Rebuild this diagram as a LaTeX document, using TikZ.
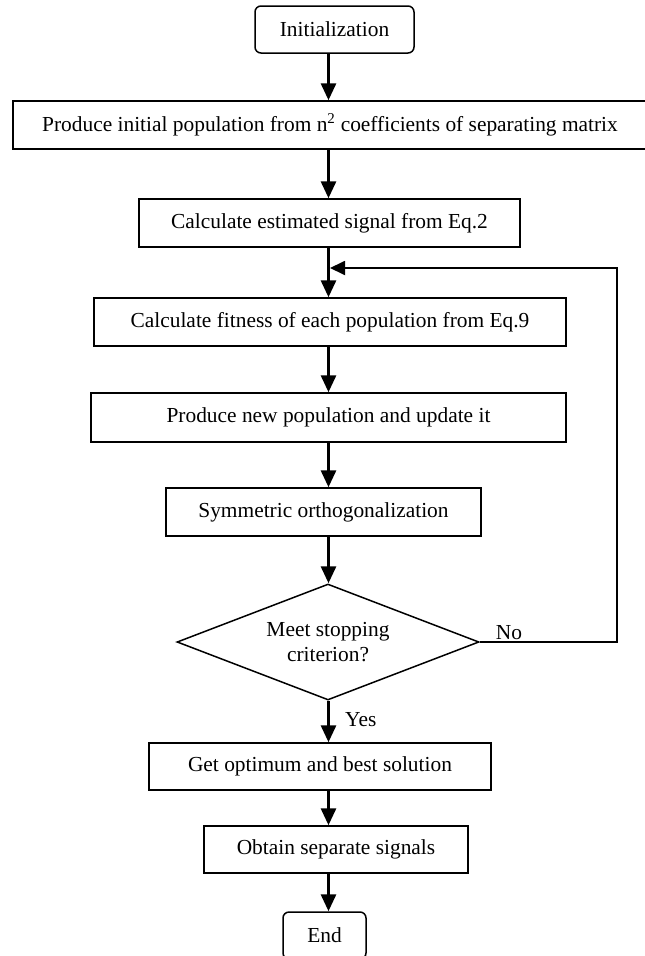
\documentclass[tikz,border=0pt]{standalone}
\usepackage{fontspec}
\setmainfont{Liberation Serif}
\usetikzlibrary{arrows.meta,shapes.geometric,positioning}

\tikzset{
  stepbox/.style={draw,line width=1.5pt,inner sep=0pt,font=\fontsize{21.4}{25}\selectfont},
  termbox/.style={stepbox,rounded corners=6pt},
  decbox/.style={stepbox,shape=diamond,aspect=2.6,align=center},
  flow/.style={line width=3pt,-{Triangle[length=17pt,width=15pt]}},
  loopback/.style={line width=1.8pt,-{Triangle[length=15pt,width=14pt]}},
  lbl/.style={font=\fontsize{21.4}{25}\selectfont,inner sep=0pt}
}

\begin{document}
\begin{tikzpicture}[x=1pt,y=-1pt]
  \useasboundingbox (0,0) rectangle (645,956);

  %spine of the chart and corner of the loop
  \coordinate (sp) at (328.5,0);
  \coordinate (back) at (617,268);

  % Steps
  \node[termbox,minimum width=159pt,minimum height=47pt] (init) at (334.5,29.5) {Initialization};
  \node[stepbox,minimum width=634pt,minimum height=48pt] (prod) at (330,125)
     {Produce initial population from n\textsuperscript{2} coefficients of separating matrix};
  \node[stepbox,minimum width=381pt,minimum height=48pt] (calc) at (329.5,223) {Calculate estimated signal from Eq.2};
  \node[stepbox,minimum width=472pt,minimum height=48pt] (fit) at (330,322) {Calculate fitness of each population from Eq.9};
  \node[stepbox,minimum width=475pt,minimum height=49pt] (newp) at (328.5,417.5) {Produce new population and update it};
  \node[stepbox,minimum width=315pt,minimum height=48pt] (sym) at (323.5,512) {Symmetric orthogonalization};
  \node[decbox,minimum width=302pt,minimum height=116pt] (dec) at (328,642) {Meet stopping\\criterion?};
  \node[stepbox,minimum width=342pt,minimum height=47pt] (opt) at (320,766.5) {Get optimum and best solution};
  \node[stepbox,minimum width=264pt,minimum height=47pt] (obt) at (336,849.5) {Obtain separate signals};
  \node[termbox,minimum width=83pt,minimum height=47pt] (fin) at (324.5,935.5) {End};

  % Vertical flows
  \foreach \a/\b in {init/prod,prod/calc,calc/fit,fit/newp,newp/sym,sym/dec,dec/opt,opt/obt,obt/fin}
      {\draw [flow] (\a.south -| sp) -- (\b.north -| sp);}

  % Loop back when not stopping
  \draw [loopback] (dec.east) -- (dec.east -| back) -- (back) -- ([xshift=1.5pt]back -| sp);
  \node[lbl,anchor=base west] (no) at ([xshift=16pt,yshift=3pt]dec.east) {No};
  \node[lbl,anchor=base west] (yes) at ([xshift=17pt,yshift=-25.5pt]dec.south) {Yes};
\end{tikzpicture}
\end{document}
